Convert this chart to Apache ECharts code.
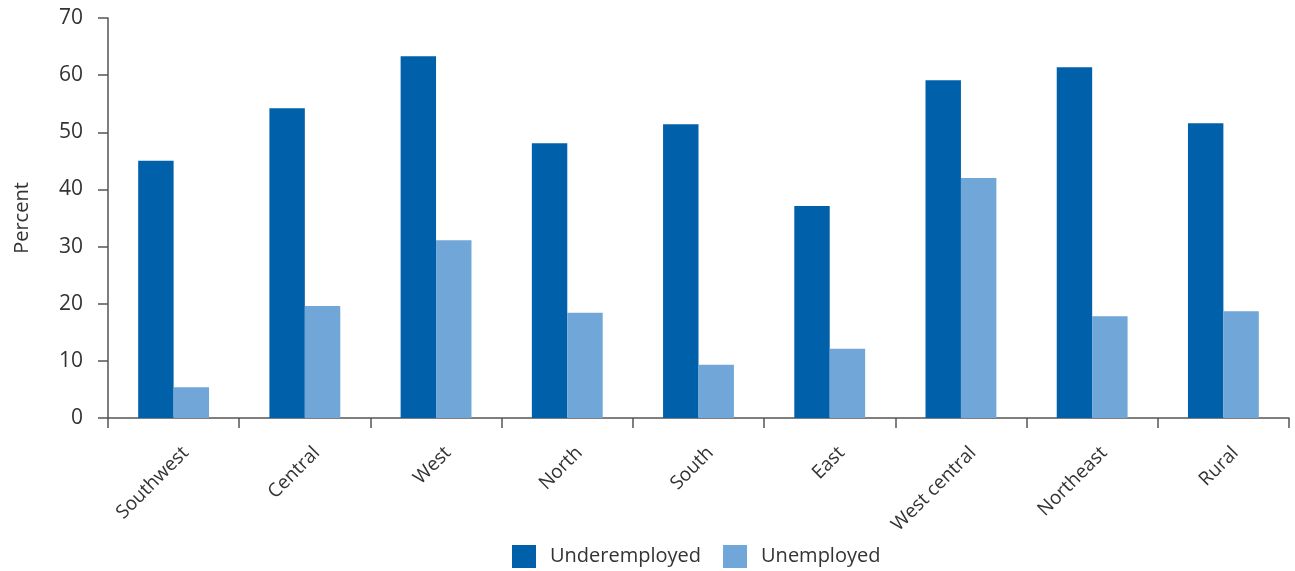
<!DOCTYPE html>
<html><head><meta charset="utf-8">
<script src="https://cdn.jsdelivr.net/npm/echarts@6/dist/echarts.min.js"></script>
<style>html,body{margin:0;padding:0;background:#fff}#c{width:1295px;height:571px}</style>
</head><body><div id="c"></div>
<script>
const categories = ['Southwest','Central','West','North','South','East','West central','Northeast','Rural'];
const underemployed = [45.0, 54.2, 63.3, 48.1, 51.4, 37.1, 59.1, 61.4, 51.6];
const unemployed = [5.4, 19.6, 31.1, 18.4, 9.3, 12.1, 42.0, 17.8, 18.7];
const yTicks = [0,10,20,30,40,50,60,70];
const font = 'Open Sans, Noto Sans, sans-serif';
const chart = echarts.init(document.getElementById('c'));
chart.setOption({
  animation:false,
  textStyle:{fontFamily:font},
  grid:{left:108,right:6,top:18,bottom:153,containLabel:false},
  legend:{bottom:3,left:512,padding:0,itemWidth:24,itemHeight:23,itemGap:22,
    icon:'rect',textStyle:{fontSize:20,color:'#333',fontFamily:font,padding:[2,0,0,9]},
    data:['Underemployed','Unemployed']},
  xAxis:{type:'category',data:categories,
    axisLine:{lineStyle:{color:'#555',width:1.5}},
    axisTick:{show:true,length:10,alignWithLabel:false,lineStyle:{color:'#555',width:1.5}},
    axisLabel:{rotate:45,fontSize:19,color:'#333',margin:44,interval:0,fontFamily:font,
      padding:[42,-17,0,0]}},
  yAxis:{type:'value',min:0,max:70,interval:10,name:'Percent',nameLocation:'middle',nameGap:76,
    nameTextStyle:{fontSize:20,color:'#333',fontFamily:font},
    axisLine:{show:true,lineStyle:{color:'#555',width:1.5}},
    axisTick:{show:true,length:10,lineStyle:{color:'#555',width:1.5}},
    splitLine:{show:false},
    axisLabel:{fontSize:21,color:'#333',margin:25,fontFamily:font,
      formatter:v=>yTicks.includes(v)?String(v):''}},
  series:[
    {name:'Underemployed',type:'bar',data:underemployed,itemStyle:{color:'#0060A9'},barGap:'0%',barCategoryGap:'46%'},
    {name:'Unemployed',type:'bar',data:unemployed,itemStyle:{color:'#71A6D8'},barGap:'0%',barCategoryGap:'46%'}
  ]
});
</script></body></html>
